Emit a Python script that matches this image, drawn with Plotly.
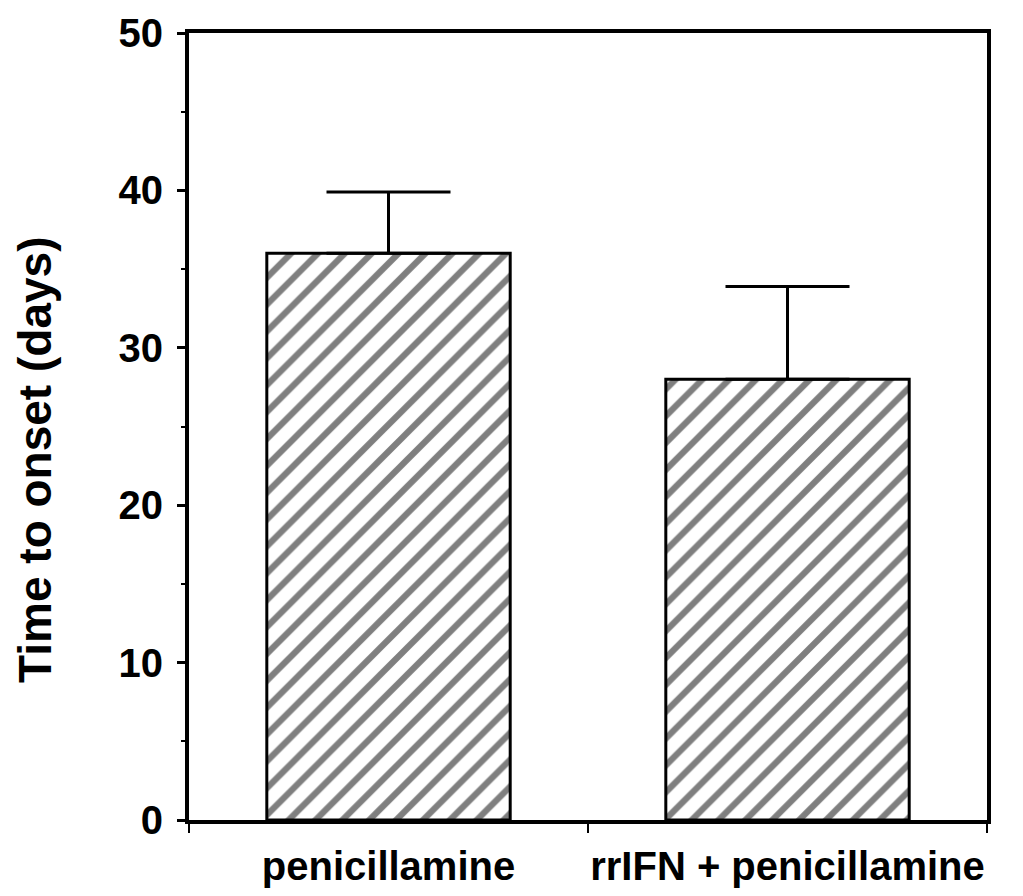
import plotly.graph_objects as go

categories = ["penicillamine", "rrIFN + penicillamine"]
means = [36.0, 28.0]
errors_up = [3.9, 5.9]
y_tick_vals = [0, 10, 20, 30, 40, 50]
y_title = "Time to onset (days)"

FONT = "Liberation Sans, Arial, Helvetica, sans-serif"

ML, MR, MT, MB = 181, 44, 25, 84
PW = 1023 - ML - MR
PH = 896 - MT - MB

fig = go.Figure()
fig.add_trace(go.Bar(
    x=categories,
    y=means,
    width=0.61,
    marker=dict(
        color="white",
        line=dict(color="black", width=3),
        pattern=dict(shape="/", size=19, solidity=0.33, fgcolor="black", bgcolor="white"),
    ),
    error_y=dict(type="data", symmetric=False, array=errors_up, arrayminus=[0, 0],
                 color="black", thickness=3, width=62),
    showlegend=False,
))

fig.update_layout(
    width=1023, height=896,
    margin=dict(l=ML, r=MR, t=MT, b=MB),
    paper_bgcolor="white", plot_bgcolor="white",
    font=dict(family=FONT, color="black", size=40, weight="bold"),
)
fig.update_xaxes(
    range=[-0.5, 1.5], automargin=False,
    showline=True, linecolor="black", linewidth=4, mirror=True,
    ticks="outside", tickson="boundaries", ticklen=9, tickwidth=2, tickcolor="black",
    tickfont=dict(family=FONT, size=40, weight="bold"),
    tickangle=0, ticklabelstandoff=8,
    showgrid=False, zeroline=False,
)
fig.update_yaxes(
    range=[0, 50], automargin=False,
    tickvals=y_tick_vals,
    showline=True, linecolor="black", linewidth=4, mirror=True,
    ticks="outside", ticklen=8, tickwidth=3, tickcolor="black",
    minor=dict(dtick=5, ticks="outside", ticklen=4, tickwidth=2, tickcolor="black"),
    tickfont=dict(family=FONT, size=40, weight="bold"),
    ticklabelstandoff=6,
    showgrid=False, zeroline=False,
)
fig.add_annotation(
    text=y_title, textangle=-90,
    xref="paper", yref="paper",
    x=(27 - ML) / PW, y=(MT + PH - 452) / PH,
    xanchor="center", yanchor="middle",
    showarrow=False,
    font=dict(family=FONT, size=46, weight="bold", color="black"),
)

fig.write_html("out.html")
